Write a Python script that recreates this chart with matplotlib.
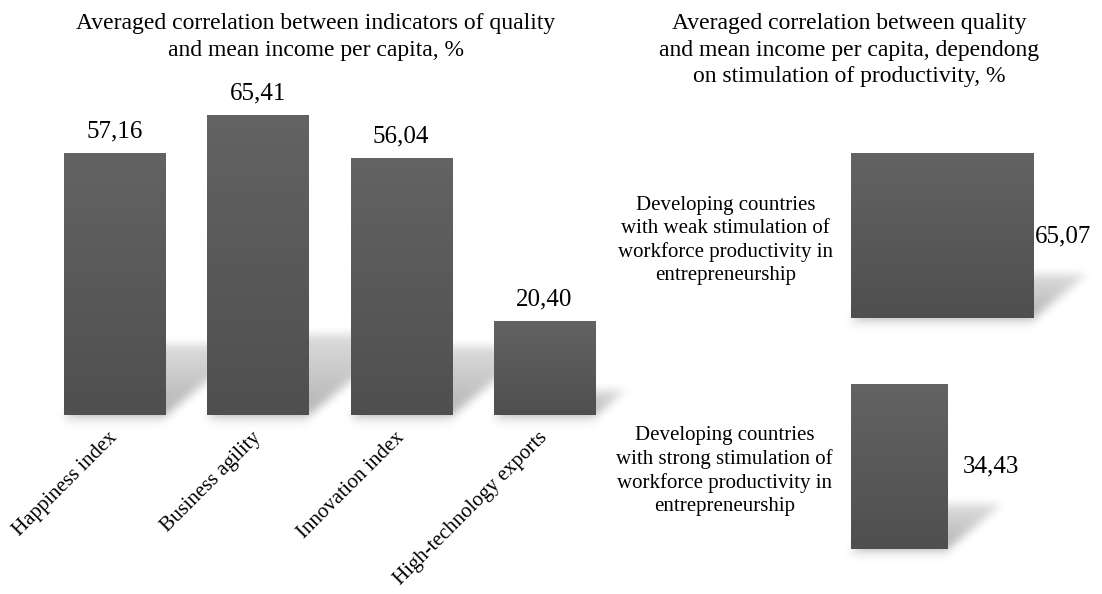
import numpy as np
import matplotlib
matplotlib.use("Agg")
import matplotlib.pyplot as plt
from matplotlib.path import Path
from matplotlib.colors import LinearSegmentedColormap

plt.rcParams['font.family'] = ['Liberation Serif', 'DejaVu Serif']

# Left panel: correlation of each quality indicator with mean income per capita
indicators = ['Happiness index', 'Business agility', 'Innovation index',
              'High-technology exports']
indicator_values = [57.16, 65.41, 56.04, 20.40]

# Right panel: correlation depending on stimulation of productivity
groups = ['Developing countries\nwith strong stimulation of\nworkforce productivity in\nentrepreneurship',
          'Developing countries\nwith weak stimulation of\nworkforce productivity in\nentrepreneurship']
group_values = [34.43, 65.07]

left_title = 'Averaged correlation between indicators of quality\nand mean income per capita, %'
right_title = ('Averaged correlation between quality\n'
               'and mean income per capita, dependong\n'
               'on stimulation of productivity, %')


def fmt(v):
    return f'{v:.2f}'.replace('.', ',')


W, H = 1102, 594
fig = plt.figure(figsize=(W / 100, H / 100), dpi=100)
fig.patch.set_facecolor('white')

bg = fig.add_axes([0, 0, 1, 1], zorder=0)
bg.set_axis_off()

ax1 = fig.add_axes([42.8 / W, (H - 415) / H, 573.4 / W, 320 / H], zorder=1)
ax2 = fig.add_axes([851 / W, (H - 581.75) / H, 223.8 / W, 461 / H], zorder=1)

grad_cmap = LinearSegmentedColormap.from_list('bar', ['#4f4f4f', '#636363'])
grad = np.linspace(0, 1, 256).reshape(-1, 1)


def paint_gradient(ax, patches):
    for p in patches:
        x, y = p.get_xy()
        w, h = p.get_width(), p.get_height()
        ax.imshow(grad, extent=[x, x + w, y, y + h], cmap=grad_cmap,
                  aspect='auto', origin='lower', zorder=2,
                  interpolation='bilinear')


# --- left panel ---
x = np.arange(len(indicators))
bars1 = ax1.bar(x, indicator_values, width=0.706, color='#585858',
                edgecolor='none', zorder=1)
paint_gradient(ax1, bars1)
ax1.set_xlim(-0.5, 3.5)
ax1.set_ylim(0, 70)
for i, v in enumerate(indicator_values):
    ax1.annotate(fmt(v), (i, v), xytext=(0, 12), textcoords='offset points',
                 ha='center', va='baseline', fontsize=18)
for i, name in enumerate(indicators):
    ax1.annotate(name, (i, 0), xytext=(-4.8, -9.5),
                 textcoords='offset points', ha='right', va='top',
                 rotation=45, rotation_mode='anchor', fontsize=15,
                 annotation_clip=False)
ax1.set_xticks([])
ax1.set_yticks([])

# --- right panel ---
y = np.arange(len(groups))
bars2 = ax2.barh(y, group_values, height=0.713, color='#585858',
                 edgecolor='none', zorder=1)
paint_gradient(ax2, bars2)
ax2.set_xlim(0, 80)
ax2.set_ylim(-0.5, 1.5)
label_gap = [11, 1.2]
for i, v in enumerate(group_values):
    ax2.annotate(fmt(v), (v, i), xytext=(label_gap[i], 0),
                 textcoords='offset points', ha='left', va='center',
                 fontsize=18)
ax2.set_xticks([])
ax2.set_yticks(y)
ax2.set_yticklabels(groups, fontsize=15, multialignment='center',
                    linespacing=1.28)
ax2.tick_params(axis='y', length=0, pad=13)

for ax in (ax1, ax2):
    ax.patch.set_visible(False)
    for s in ax.spines.values():
        s.set_visible(False)

fig.text(316 / W, 1 - 13 / H, left_title, ha='center', va='top',
         fontsize=17, multialignment='center', linespacing=1.4)
fig.text(849 / W, 1 - 13 / H, right_title, ha='center', va='top',
         fontsize=17, multialignment='center', linespacing=1.35)

# --- soft sheared shadows cast by the bars ---
yy, xx = np.mgrid[0:H, 0:W]
pts = np.column_stack([xx.ravel() + 0.5, yy.ravel() + 0.5])
alpha = np.zeros((H, W))
for ax, patches in ((ax1, bars1), (ax2, bars2)):
    for p in patches:
        bx, by = p.get_xy()
        (px0, py0), (px1, py1) = ax.transData.transform(
            [(bx, by), (bx + p.get_width(), by + p.get_height())])
        h = py1 - py0
        top = py0 + 0.27 * h
        shift = 0.33 * h
        quad = [(px0, py0 - 1), (px1, py0 - 1), (px1 + shift, top),
                (px0 + shift, top)]
        mask = Path(quad).contains_points(pts).reshape(H, W)
        frac = np.clip((yy + 0.5 - py0) / (top - py0), 0, 1)
        alpha = np.maximum(alpha, mask * (0.30 - 0.16 * frac))
        # faint reflection just under the base
        under = (xx >= px0) & (xx <= px1) & (yy >= py0 - 9) & (yy < py0)
        alpha = np.maximum(alpha, under * 0.05)

sigma = 4.5
r = int(3 * sigma)
k = np.exp(-np.arange(-r, r + 1) ** 2 / (2 * sigma ** 2))
k /= k.sum()
alpha = np.apply_along_axis(lambda m: np.convolve(m, k, mode='same'), 1, alpha)
alpha = np.apply_along_axis(lambda m: np.convolve(m, k, mode='same'), 0, alpha)

rgba = np.zeros((H, W, 4))
rgba[..., 3] = alpha
bg.imshow(rgba, extent=[0, W, 0, H], origin='lower', interpolation='nearest')
bg.set_xlim(0, W)
bg.set_ylim(0, H)

fig.savefig('out.png', dpi=100, facecolor='white')
